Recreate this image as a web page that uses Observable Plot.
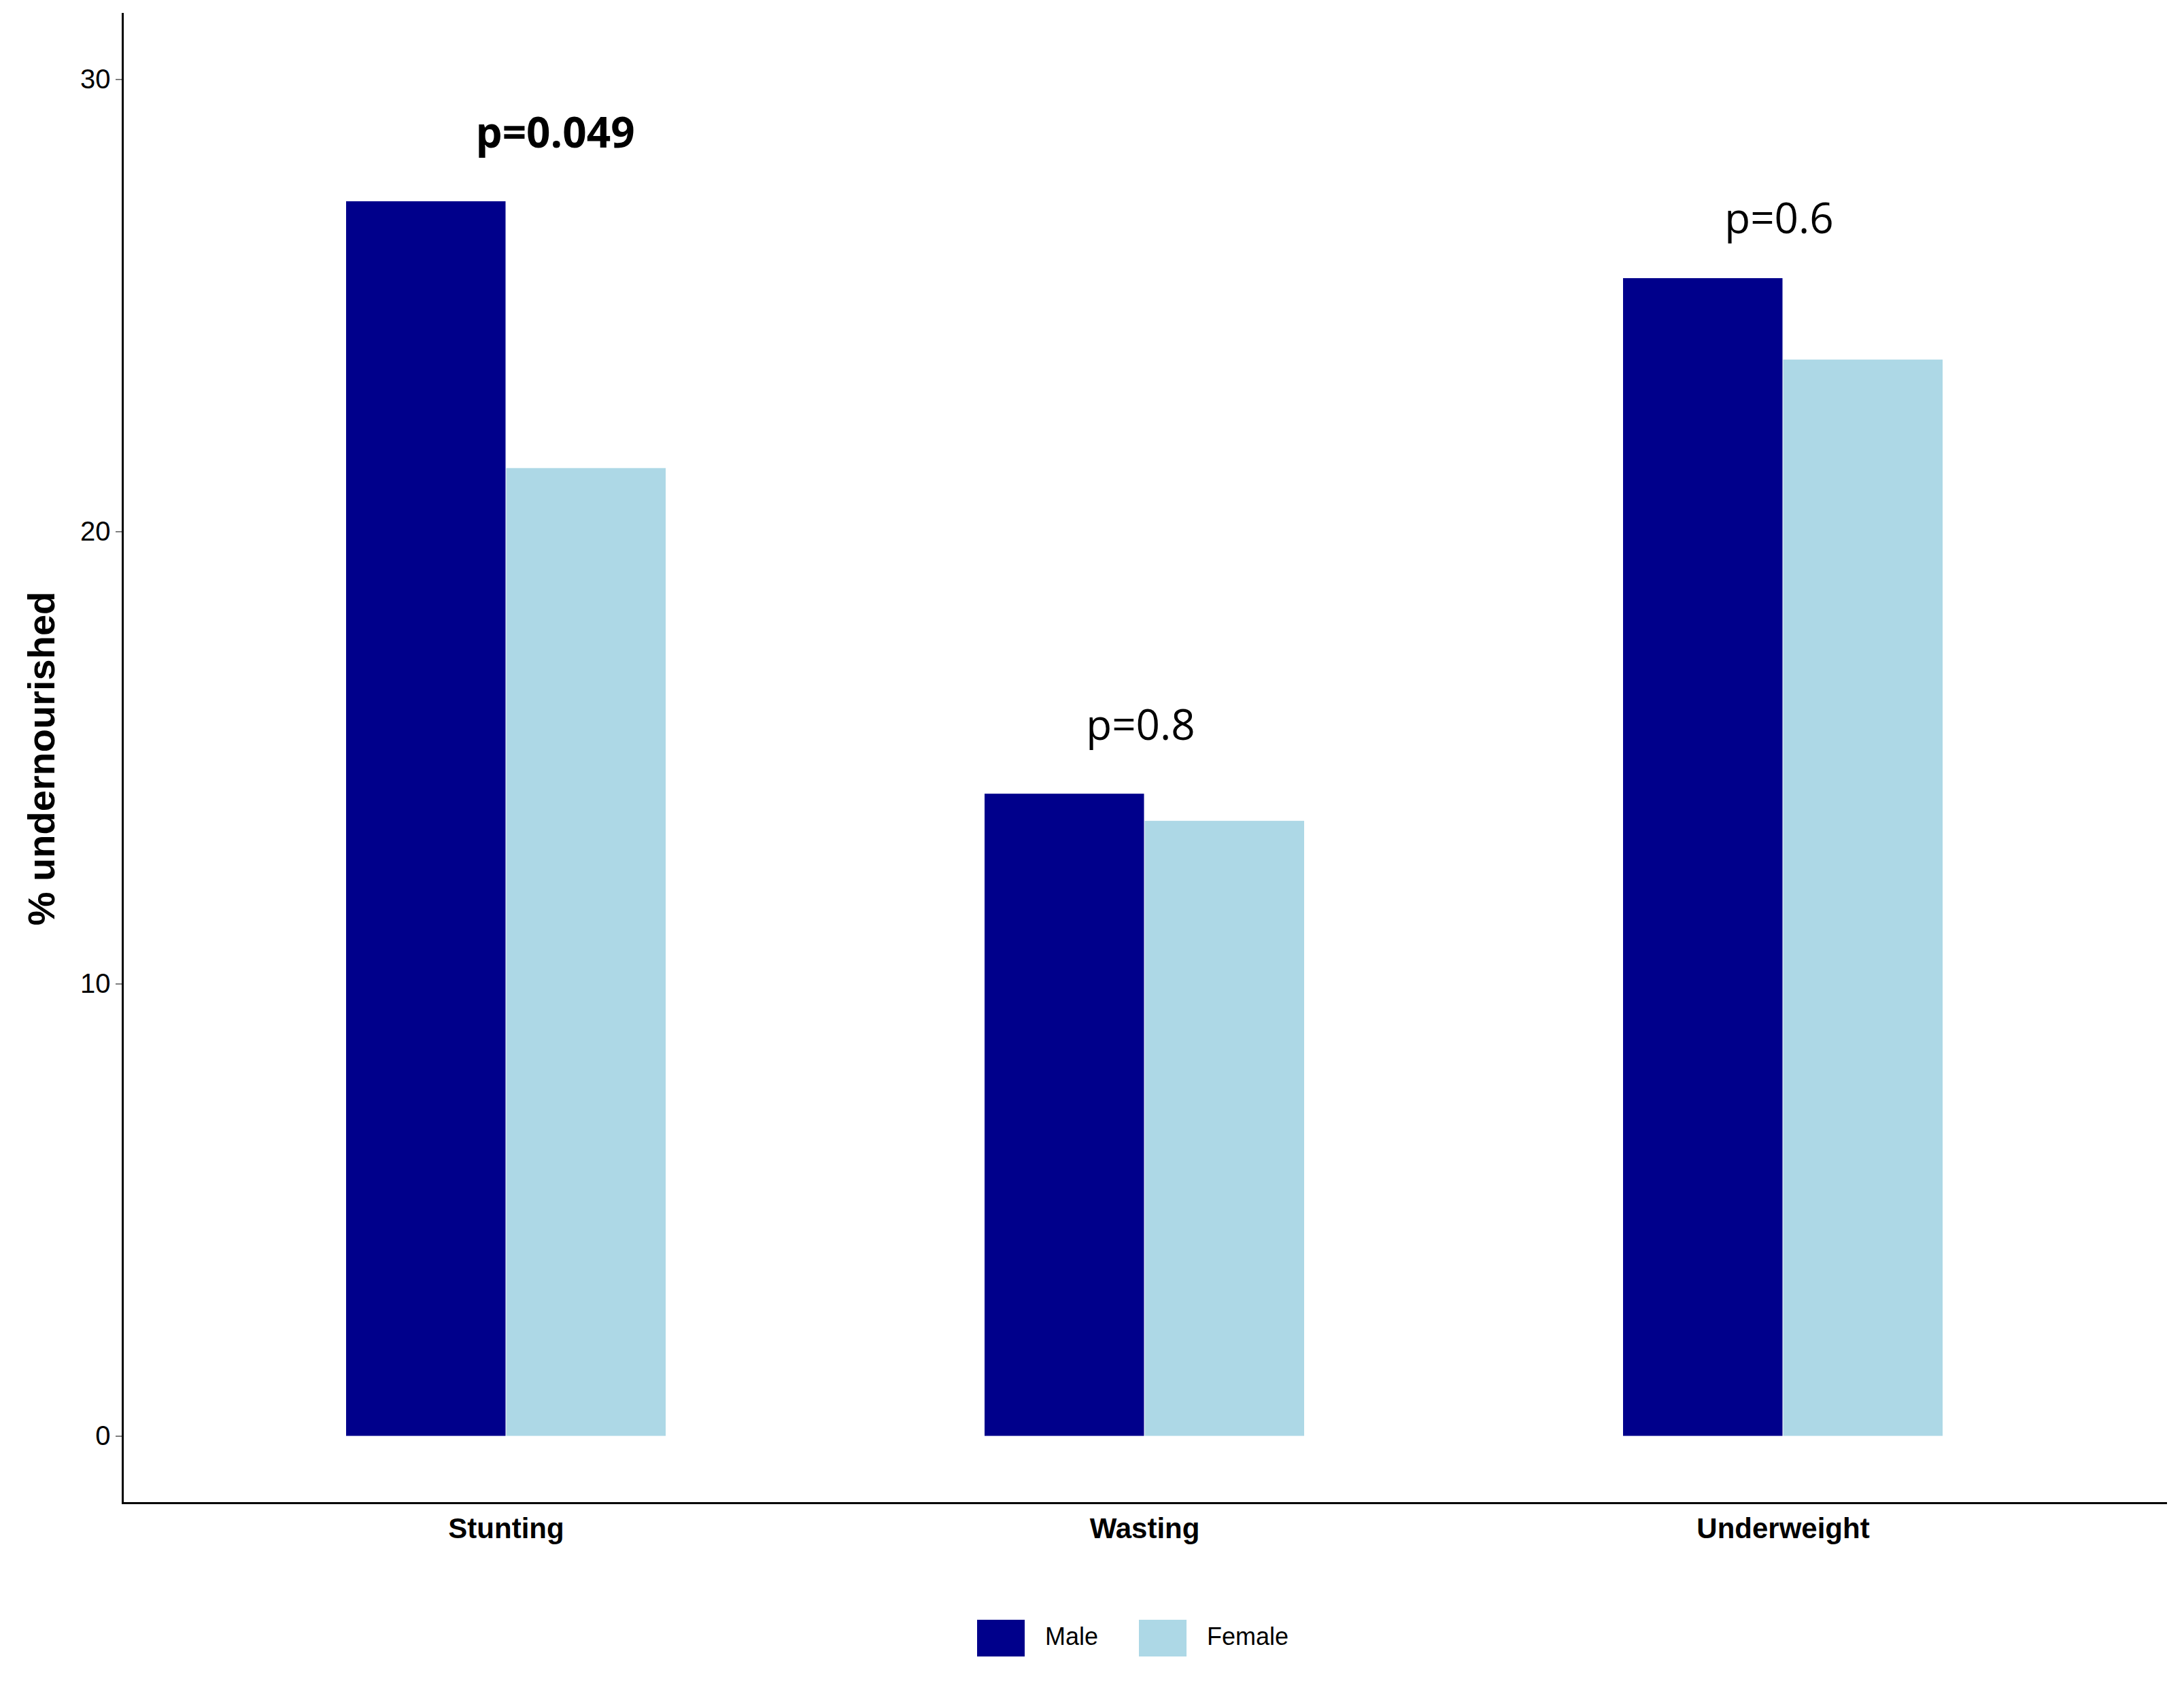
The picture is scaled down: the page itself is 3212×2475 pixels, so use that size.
<!DOCTYPE html>
<html><head>
<script src="https://cdn.jsdelivr.net/npm/d3@7"></script>
<script src="https://cdn.jsdelivr.net/npm/@observablehq/plot@0.6"></script>
<style>
body{margin:0;background:#fff;font-family:"Liberation Sans",Arial,sans-serif;}
#legend{display:flex;justify-content:center;gap:60px;margin-top:82px;font-size:36px;padding-left:120px}
.sw{display:inline-block;width:70px;height:54px;vertical-align:middle;margin-right:30px}
</style></head><body>
<div id="chart"></div>
<div id="legend"><span><span class="sw" style="background:#00008B"></span>Male</span><span><span class="sw" style="background:#ADD8E6"></span>Female</span></div>
<script>
const categories = ["Stunting","Wasting","Underweight"];
const male = [27.3, 14.2, 25.6];
const female = [21.4, 13.6, 23.8];
const pLabels = ["p=0.049","p=0.8","p=0.6"];
const pY = [28.8, 15.7, 26.9];
const pBold = [true,false,false];
const yTicks = [0,10,20,30];

const rows = categories.map((c,i)=>({c, m:male[i], f:female[i], p:pLabels[i], py:pY[i], b:pBold[i]}));
const bw = 471;
const chart = Plot.plot({
  width: 3212, height: 2300,
  marginLeft: 180, marginRight: 27, marginTop: 20, marginBottom: 90,
  style: {fontFamily: "Liberation Sans, Arial, sans-serif"},
  x: {domain: categories, paddingInner: 0.5, paddingOuter: 0.35, label: null},
  y: {domain: [-1.48, 31.45], ticks: yTicks, label: "% undernourished"},
  marks: [
    Plot.barY(rows, {x:"c", y:"m", fill:"#00008B", insetRight: bw/2}),
    Plot.barY(rows, {x:"c", y:"f", fill:"#ADD8E6", insetLeft: bw/2}),
    Plot.text(rows.filter(d=>d.b), {x:"c", y:"py", text:"p", dx:72, fontSize:62, fontWeight:"bold", fontFamily:"Open Sans", fill:"#000"}),
    Plot.text(rows.filter(d=>!d.b), {x:"c", y:"py", text:"p", dx:-6, fontSize:62, fontFamily:"Open Sans", fill:"#000"}),
    Plot.frame({anchor:"left", stroke:"#000", strokeWidth:3}),
    Plot.frame({anchor:"bottom", stroke:"#000", strokeWidth:3}),
    Plot.axisY({ticks: yTicks, tickSize: 10, fontSize: 40, tickPadding: 8, labelAnchor:"center", labelArrow:"none", labelOffset: 140}),
    Plot.axisX({tickSize: 0, fontSize: 42, fontWeight: "bold", tickPadding: 22})
  ]
});
d3.select(chart).selectAll("[aria-label='y-axis label']").attr("font-weight","bold").attr("font-size",56);
document.getElementById("chart").appendChild(chart);
</script>
</body></html>
